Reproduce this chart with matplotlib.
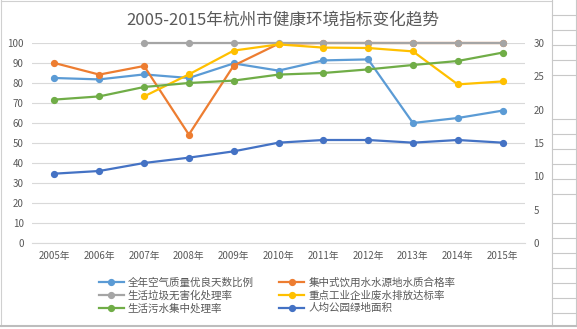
import numpy as np
import matplotlib
matplotlib.use('Agg')
import matplotlib.pyplot as plt
from matplotlib.lines import Line2D

plt.rcParams['font.family'] = ['Noto Sans CJK SC', 'DejaVu Sans']

# data
years = ['2005年', '2006年', '2007年', '2008年', '2009年', '2010年',
         '2011年', '2012年', '2013年', '2014年', '2015年']
air_good_days = [82.5, 81.8, 84.3, 82.5, 89.8, 86.2, 91.3, 91.8, 60.0, 62.5, 66.2]
water_source_ok = [90.0, 84.2, 88.5, 54.2, 88.7, 99.6, 100, 100, 100, 100, 100]
garbage_safe = [np.nan, np.nan, 100, 100, 100, 100, 100, 100, 100, 100, 100]
industry_water_ok = [np.nan, np.nan, 73.3, 84.3, 96.2, 99.3, 97.7, 97.5, 95.8, 79.3, 80.8]
sewage_treated = [71.7, 73.3, 78.0, 80.0, 81.2, 84.2, 85.0, 86.8, 89.0, 91.0, 95.2]
park_area = [10.4, 10.8, 12.0, 12.8, 13.75, 15.05, 15.45, 15.45, 15.05, 15.45, 15.05]

left_ticks = np.arange(0, 101, 10)
right_ticks = np.arange(0, 31, 5)

txt = '#595959'
grid = '#d9d9d9'

fig = plt.figure(figsize=(5.77, 3.29), dpi=100)
ax = fig.add_axes([32/577, 1 - 243/329, (525 - 32)/577, 200/329])
ax2 = ax.twinx()

x = np.arange(len(years))
lw = 1.6
ms = 4.2
series = [
  (air_good_days, '#5b9bd5', '全年空气质量优良天数比例'),
  (water_source_ok, '#ed7d31', '集中式饮用水水源地水质合格率'),
  (garbage_safe, '#a5a5a5', '生活垃圾无害化处理率'),
  (industry_water_ok, '#ffc000', '重点工业企业废水排放达标率'),
  (sewage_treated, '#70ad47', '生活污水集中处理率'),
]
handles = {}
for vals, col, name in series:
  h, = ax.plot(x, vals, color=col, lw=lw, marker='o', ms=ms, label=name,
               zorder=3, clip_on=False)
  handles[name] = h
h, = ax2.plot(x, park_area, color='#4472c4', lw=lw, marker='o', ms=ms,
              label='人均公园绿地面积', zorder=3, clip_on=False)
handles['人均公园绿地面积'] = h

ax.set_xlim(-0.5, len(years) - 0.5)
ax.set_ylim(0, 100)
ax2.set_ylim(0, 30)
ax.set_yticks(left_ticks)
ax2.set_yticks(right_ticks)
ax.set_xticks(x)
ax.set_xticklabels(years)
ax.yaxis.grid(True, color=grid, lw=0.8)
ax.set_axisbelow(True)
for a in (ax, ax2):
  for s in a.spines.values():
    s.set_visible(False)
  a.tick_params(length=0, labelsize=7, colors=txt)
ax.tick_params(axis='y', pad=6)
ax2.tick_params(axis='y', pad=6)
ax.tick_params(axis='x', pad=6)
ax.spines['bottom'].set_visible(True)
ax.spines['bottom'].set_color(grid)
ax.spines['bottom'].set_linewidth(0.8)

fig.text(283/577, 1 - 20/329, '2005-2015年杭州市健康环境指标变化趋势',
         ha='center', va='center', fontsize=12, color=txt)

order = ['全年空气质量优良天数比例', '生活垃圾无害化处理率', '生活污水集中处理率',
         '集中式饮用水水源地水质合格率', '重点工业企业废水排放达标率', '人均公园绿地面积']
leg = fig.legend([handles[k] for k in order], order, ncol=2, loc='center',
                 bbox_to_anchor=(277/577, 1 - 295.5/329), frameon=False,
                 fontsize=7.6, handlelength=2.4, handletextpad=0.35,
                 columnspacing=2.4, labelspacing=0.25, borderpad=0)
for t in leg.get_texts():
  t.set_color(txt)

# chart frame and the sheet cells to its right
fig.add_artist(Line2D([1/577, 552/577], [1 - 0.5/329, 1 - 0.5/329], color='#d0d0d0', lw=0.8))
fig.add_artist(Line2D([1/577, 1/577], [1 - 326/329, 1], color='#d0d0d0', lw=0.8))
fig.add_artist(Line2D([552/577, 552/577], [1 - 326/329, 1], color='#c8c8c8', lw=0.8))
fig.add_artist(Line2D([575.5/577, 575.5/577], [1 - 326/329, 1], color='#c8c8c8', lw=0.8))
fig.add_artist(Line2D([0, 1], [1 - 326/329, 1 - 326/329], color='#bdbdbd', lw=1.5))
for yy in [15, 30, 45, 60, 75, 119, 134, 149, 164, 179, 194, 223, 238, 253, 268, 283, 298, 313]:
  fig.add_artist(Line2D([552/577, 1], [1 - yy/329, 1 - yy/329], color='#c8c8c8', lw=0.8))

fig.savefig('out.png', dpi=100)
